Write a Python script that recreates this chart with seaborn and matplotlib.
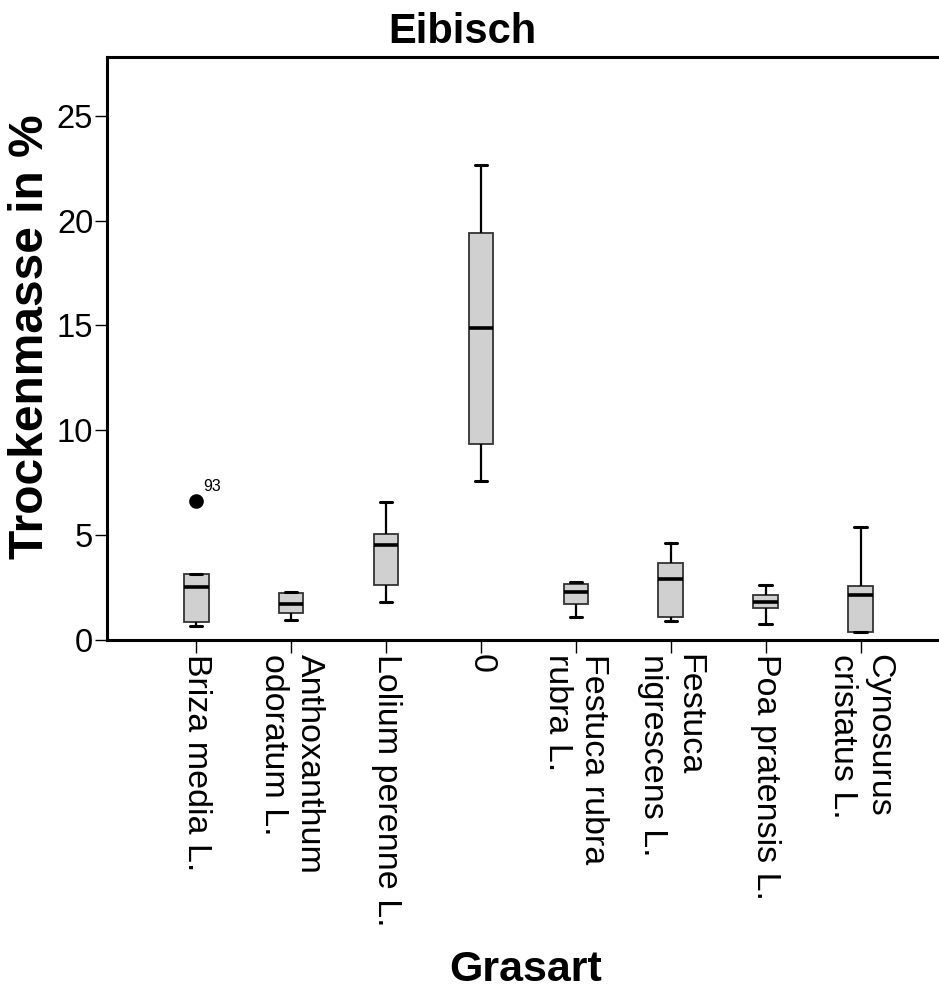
import pandas as pd
import numpy as np
import matplotlib
matplotlib.use("Agg")
import matplotlib.pyplot as plt
import seaborn as sns

# grass species (x categories), labels as they are wrapped on the chart
species = ["Briza media L.", "Anthoxanthum odoratum L.", "Lolium perenne L.", "0",
           "Festuca rubra rubra L.", "Festuca nigrescens L.", "Poa pratensis L.",
           "Cynosurus cristatus L."]
tick_labels = ["Briza media L.", "Anthoxanthum\nodoratum L.", "Lolium perenne L.", "0",
               "Festuca rubra\nrubra L.", "Festuca\nnigrescens L.", "Poa pratensis L.",
               "Cynosurus\ncristatus L."]

# values (dry mass in %): lowest, Q1, median, Q3, highest
lowest = [0.67, 0.94, 1.80, 7.59, 1.11, 0.92, 0.78, 0.37]
q1 = [0.86, 1.30, 2.62, 9.34, 1.70, 1.11, 1.54, 0.37]
median = [2.54, 1.70, 4.52, 14.87, 2.30, 2.90, 1.83, 2.15]
q3 = [3.13, 2.23, 5.06, 19.43, 2.67, 3.66, 2.15, 2.59]
highest = [6.65, 2.30, 6.58, 22.65, 2.78, 4.61, 2.64, 5.41]

# the outlier of Briza media is case no. 93
outlier_group = 0
outlier_label = "93"

rows = []
for i, sp in enumerate(species):
    for v in (lowest[i], q1[i], median[i], q3[i], highest[i]):
        rows.append({"Grasart": sp, "Trockenmasse": v})
df = pd.DataFrame(rows)

sns.set_style("ticks")
plt.rcParams["font.family"] = ["Liberation Sans", "DejaVu Sans"]
plt.rcParams["text.color"] = "black"
plt.rcParams["axes.labelcolor"] = "black"

fig = plt.figure(figsize=(9.39, 9.94), dpi=100)
ax = fig.add_axes([0.114, 0.356, 0.8924, 0.5867])

sns.boxplot(data=df, x="Grasart", y="Trockenmasse", order=species, ax=ax,
            color="#d0d0d0", saturation=1, width=0.26, linecolor="black",
            linewidth=1.3, fliersize=9.5,
            boxprops=dict(edgecolor="#333333", linewidth=1.3),
            whiskerprops=dict(color="black", linewidth=1.6),
            capprops=dict(color="black", linewidth=2.2),
            medianprops=dict(color="black", linewidth=2.6),
            flierprops=dict(marker="o", markerfacecolor="black",
                            markeredgecolor="black", markersize=9.5))

ax.annotate(outlier_label, xy=(outlier_group, highest[outlier_group]),
            xytext=(5, 5), textcoords="offset points", fontsize=11.5,
            ha="left", va="bottom", color="black")

ax.set_xlim(-0.94, 7.89)
ax.set_ylim(0, 27.8)
ax.set_yticks([0, 5, 10, 15, 20, 25])
ax.set_xticks(range(len(species)))
ax.set_xticklabels(tick_labels, rotation=270, multialignment="left")
ax.tick_params(axis="both", length=9, width=1, pad=1, colors="black")
ax.tick_params(axis="y", labelsize=23.5)
ax.tick_params(axis="x", labelsize=24.5)

for side in ["left", "top", "bottom", "right"]:
    ax.spines[side].set_linewidth(2.2)
    ax.spines[side].set_color("black")

ax.set_ylabel("Trockenmasse in %", fontsize=34.5, fontweight="bold")
ax.yaxis.set_label_coords(-0.064, 0.52)
ax.set_xlabel("Grasart", fontsize=31, fontweight="bold")
ax.xaxis.set_label_coords(0.5, -0.532)

fig.text(0.492, 1 - 43 / 994, "Eibisch", fontsize=30, fontweight="bold",
         ha="center", va="baseline")

fig.savefig("out.png", dpi=100)
